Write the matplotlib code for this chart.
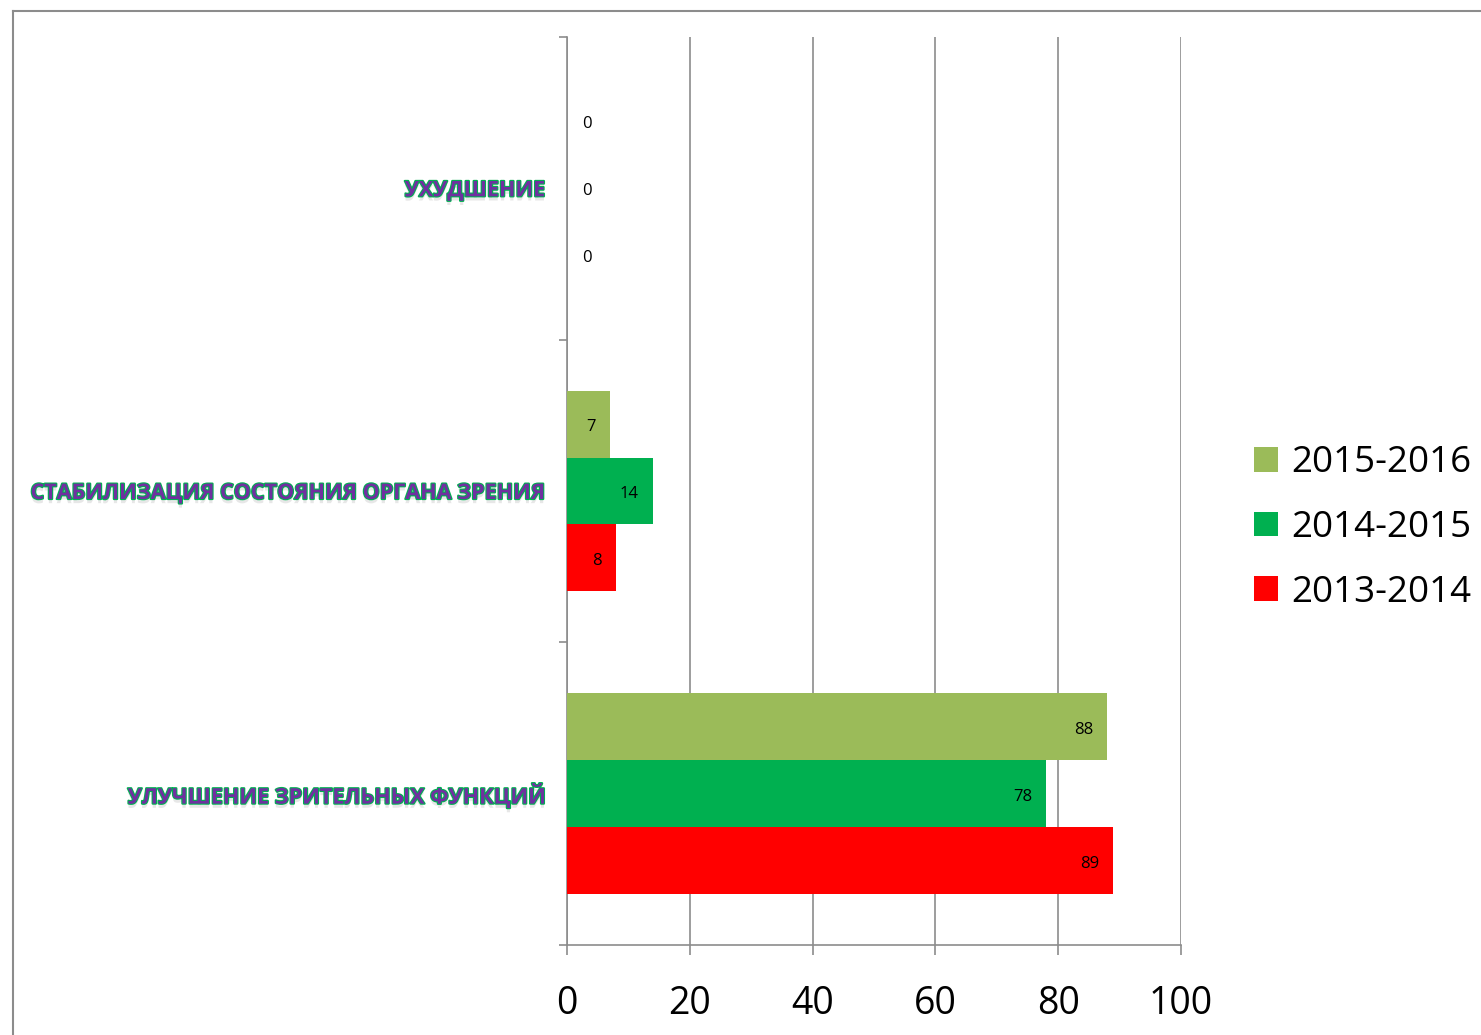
import matplotlib.pyplot as plt
import matplotlib.patheffects as pe
import numpy as np
from matplotlib.lines import Line2D

categories = ['УЛУЧШЕНИЕ ЗРИТЕЛЬНЫХ ФУНКЦИЙ', 'СТАБИЛИЗАЦИЯ СОСТОЯНИЯ ОРГАНА ЗРЕНИЯ', 'УХУДШЕНИЕ']
years = ['2013-2014', '2014-2015', '2015-2016']
v_2013 = [89, 8, 0]
v_2014 = [78, 14, 0]
v_2015 = [88, 7, 0]
colors = ['#FF0000', '#00B050', '#9BBB59']
x_ticks = [0, 20, 40, 60, 80, 100]

fig = plt.figure(figsize=(14.81, 10.35), dpi=100)
ax = fig.add_axes([567 / 1481, 1 - 945 / 1035, 614 / 1481, 908 / 1035])

# frame around the chart area (only left and top visible)
fig.add_artist(Line2D([13 / 1481, 13 / 1481], [0, 1 - 11 / 1035], transform=fig.transFigure, color='#8c8c8c', lw=1.5))
fig.add_artist(Line2D([13 / 1481, 1], [1 - 11 / 1035, 1 - 11 / 1035], transform=fig.transFigure, color='#8c8c8c', lw=1.5))

y = np.arange(len(categories))
h = 0.2213
series = [v_2013, v_2014, v_2015]
for i, (vals, col, lab) in enumerate(zip(series, colors, years)):
    pos = y + (i - 1) * h
    ax.barh(pos, vals, height=h, color=col, label=lab, zorder=3)
    for p, v in zip(pos, vals):
        if v > 0:
            ax.annotate(str(v), (v, p), xytext=(-14, -3), textcoords='offset pixels',
                        ha='right', va='center', fontsize=12, family='Open Sans', zorder=4)
        else:
            ax.annotate(str(v), (0, p), xytext=(15, -3), textcoords='offset pixels',
                        ha='left', va='center', fontsize=12, family='Open Sans', zorder=4)

ax.set_xlim(0, 100)
ax.set_ylim(-0.5, 2.5)
ax.set_xticks(x_ticks)
ax.set_xticklabels([str(t) for t in x_ticks], fontsize=27, family='Open Sans')
ax.xaxis.grid(True, color='#8c8c8c', lw=1.2, zorder=0)
ax.tick_params(axis='x', length=7, color='#8c8c8c', width=1.2, pad=22)

ax.set_yticks(y)
ax.set_yticks([-0.5, 0.5, 1.5, 2.5], minor=True)
ax.tick_params(axis='y', which='major', length=0, pad=16)
ax.tick_params(axis='y', which='minor', length=6, color='#8c8c8c', width=1.2)
ax.set_yticklabels(categories, fontsize=15.5, fontweight='bold', family='Open Sans', color='#7030A0')
for t in ax.get_yticklabels():
    t.set_path_effects([pe.withSimplePatchShadow(offset=(0, -3), shadow_rgbFace='#bbbbbb', alpha=0.35),
                        pe.Stroke(linewidth=1.6, foreground='#00B050'), pe.Normal()])

for s in ['top', 'right']:
    ax.spines[s].set_visible(False)
for s in ['left', 'bottom']:
    ax.spines[s].set_color('#8c8c8c')
    ax.spines[s].set_linewidth(1.2)

handles, labels = ax.get_legend_handles_labels()
ax.legend(handles[::-1], labels[::-1], loc='center left', bbox_to_anchor=(1221 / 1481, 1 - 528 / 1035),
          bbox_transform=fig.transFigure, frameon=False, prop={'family': 'Open Sans', 'size': 26.5},
          handlelength=0.65, handleheight=0.65, handletextpad=0.35, labelspacing=0.78)

fig.savefig('out.png', dpi=100)
